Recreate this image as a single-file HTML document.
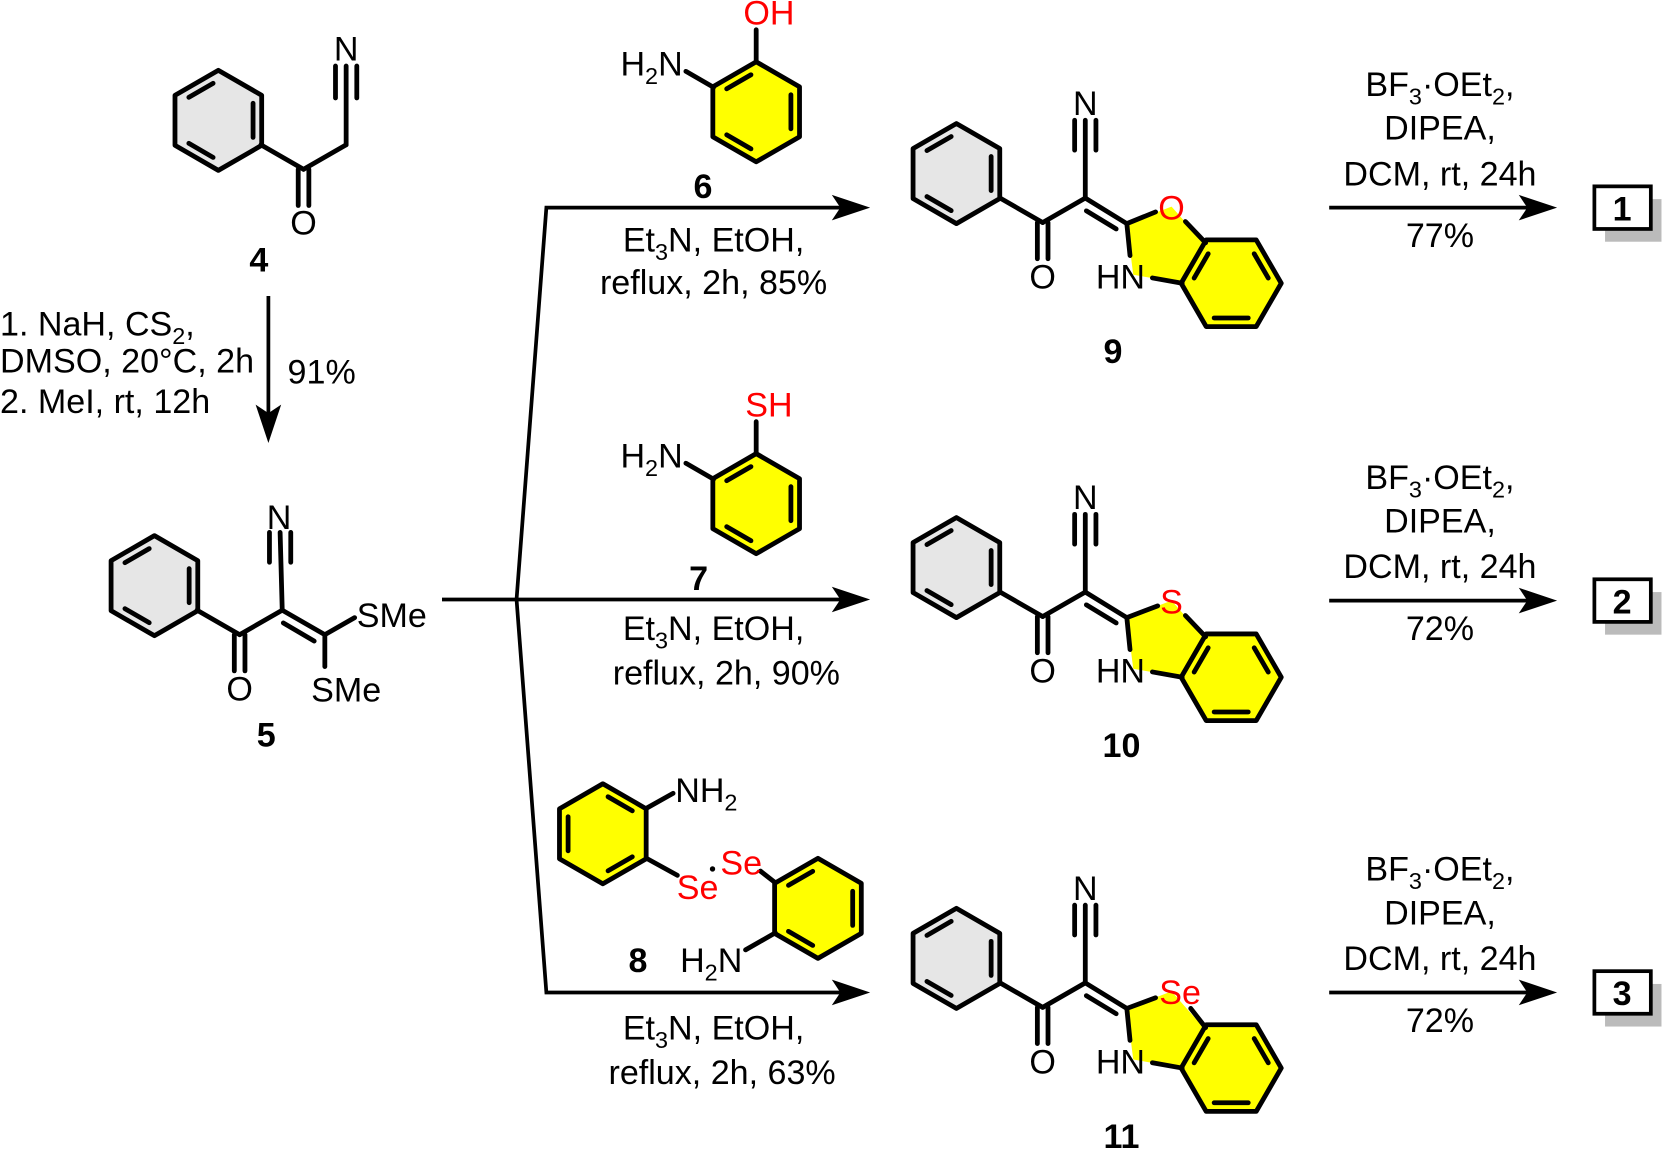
<!DOCTYPE html>
<html><head><meta charset="utf-8"><style>
html,body{margin:0;padding:0;background:#fff;}
svg{display:block;}
text{font-family:"Liberation Sans",Arial,sans-serif;font-size:32px;fill:#000;}
.b{font-weight:bold;}
.r{fill:#ff0000;}
.s{font-size:22px;}
</style></head><body>
<svg width="1670" height="1149" viewBox="0 0 1568 1079" preserveAspectRatio="none" xmlns="http://www.w3.org/2000/svg">
<defs>
<g id="hexG">
<polygon points="0,-47 40.7,-23.5 40.7,23.5 0,47 -40.7,23.5 -40.7,-23.5" fill="#e6e6e6" stroke="#000" stroke-width="4.5" stroke-linejoin="round"/>
<g stroke="#000" stroke-width="4.5" stroke-linecap="round">
<line x1="-4.9" y1="-34.8" x2="-27.7" y2="-21.6"/><line x1="32.6" y1="-16" x2="32.6" y2="16"/><line x1="-4.9" y1="34.8" x2="-27.7" y2="21.6"/></g>
</g>
<g id="hexY">
<polygon points="0,-47 40.7,-23.5 40.7,23.5 0,47 -40.7,23.5 -40.7,-23.5" fill="#ffff00" stroke="#000" stroke-width="4.5" stroke-linejoin="round"/>
<g stroke="#000" stroke-width="4.5" stroke-linecap="round">
<line x1="-4.9" y1="-34.8" x2="-27.7" y2="-21.6"/><line x1="32.6" y1="-16" x2="32.6" y2="16"/><line x1="-4.9" y1="34.8" x2="-27.7" y2="21.6"/></g>
</g>
<g id="arrR"><path d="M0,0 L-36,-12 L-28,0 L-36,12 Z" fill="#000"/></g>
<g id="prod">
<use href="#hexG" x="898" y="163"/>
<g stroke="#000" stroke-width="4.5" stroke-linecap="round" fill="none">
<line x1="939" y1="186" x2="979" y2="209"/>
<line x1="974" y1="209" x2="974" y2="243"/><line x1="984" y1="209" x2="984" y2="243"/>
<line x1="979" y1="209" x2="1019" y2="186"/>
<line x1="1019" y1="186" x2="1019" y2="113"/>
<line x1="1009" y1="141" x2="1009" y2="113"/><line x1="1029" y1="141" x2="1029" y2="113"/>
<line x1="1019" y1="186" x2="1058" y2="210"/>
<line x1="1020" y1="198" x2="1048" y2="215"/>
</g>
<text x="979" y="271" text-anchor="middle">O</text>
<text x="1019" y="108" text-anchor="middle">N</text>
</g>
</defs>

<!-- compound 4 -->
<use href="#hexG" x="205" y="113"/>
<g stroke="#000" stroke-width="4.5" stroke-linecap="round" fill="none">
<line x1="245" y1="136" x2="285" y2="159"/>
<line x1="280" y1="159" x2="280" y2="193"/><line x1="290" y1="159" x2="290" y2="193"/>
<line x1="285" y1="159" x2="325" y2="136"/>
<line x1="325" y1="136" x2="325" y2="62"/>
<line x1="315" y1="92" x2="315" y2="62"/><line x1="335" y1="92" x2="335" y2="62"/>
</g>
<text x="285" y="220" text-anchor="middle">O</text>
<text x="325" y="57" text-anchor="middle">N</text>
<text x="243" y="255" text-anchor="middle" class="b">4</text>

<!-- arrow 4->5 -->
<line x1="252" y1="278" x2="252" y2="390" stroke="#000" stroke-width="3.5"/>
<use href="#arrR" transform="translate(252,416) rotate(90)"/>
<text x="0" y="315">1. NaH, CS<tspan class="s" dy="8">2</tspan><tspan dy="-8">,</tspan></text>
<text x="0" y="350">DMSO, 20°C, 2h</text>
<text x="0" y="388">2. MeI, rt, 12h</text>
<text x="270" y="360">91%</text>

<!-- compound 5 -->
<use href="#hexG" x="145" y="550"/>
<g stroke="#000" stroke-width="4.5" stroke-linecap="round" fill="none">
<line x1="185" y1="573" x2="225" y2="596"/>
<line x1="220" y1="596" x2="220" y2="630"/><line x1="230" y1="596" x2="230" y2="630"/>
<line x1="225" y1="596" x2="265" y2="573"/>
<line x1="265" y1="573" x2="263" y2="500"/>
<line x1="253" y1="528" x2="253" y2="500"/><line x1="273" y1="528" x2="273" y2="500"/>
<line x1="265" y1="573" x2="305" y2="596"/>
<line x1="266" y1="585" x2="295" y2="602"/>
<line x1="305" y1="596" x2="333" y2="580"/>
<line x1="305" y1="596" x2="305" y2="626"/>
</g>
<text x="225" y="658" text-anchor="middle">O</text>
<text x="262" y="497" text-anchor="middle">N</text>
<text x="335" y="589">SMe</text>
<text x="325" y="659" text-anchor="middle">SMe</text>
<text x="250" y="701" text-anchor="middle" class="b">5</text>

<!-- branch lines -->
<g stroke="#000" stroke-width="3.5" fill="none">
<line x1="415" y1="563" x2="485" y2="563"/>
<polyline points="485,563 513,195 790,195"/>
<line x1="485" y1="563" x2="790" y2="563"/>
<polyline points="485,563 513,932 790,932"/>
</g>
<use href="#arrR" x="817" y="195"/>
<use href="#arrR" x="817" y="563"/>
<use href="#arrR" x="817" y="932"/>

<!-- reagent 6 -->
<use href="#hexY" x="710" y="105"/>
<g stroke="#000" stroke-width="4.5" stroke-linecap="round">
<line x1="710" y1="58" x2="710" y2="28"/><line x1="670" y1="82" x2="644" y2="67"/></g>
<text x="722" y="23" text-anchor="middle" class="r">OH</text>
<text x="641" y="71" text-anchor="end">H<tspan class="s" dy="8">2</tspan><tspan dy="-8">N</tspan></text>
<text x="660" y="186" text-anchor="middle" class="b">6</text>
<text x="670" y="236" text-anchor="middle">Et<tspan class="s" dy="8">3</tspan><tspan dy="-8">N, EtOH,</tspan></text>
<text x="670" y="276" text-anchor="middle">reflux, 2h, 85%</text>

<!-- reagent 7 -->
<use href="#hexY" x="710" y="473"/>
<g stroke="#000" stroke-width="4.5" stroke-linecap="round">
<line x1="710" y1="426" x2="710" y2="396"/><line x1="670" y1="450" x2="644" y2="435"/></g>
<text x="722" y="391" text-anchor="middle" class="r">SH</text>
<text x="641" y="439" text-anchor="end">H<tspan class="s" dy="8">2</tspan><tspan dy="-8">N</tspan></text>
<text x="656" y="554" text-anchor="middle" class="b">7</text>
<text x="670" y="601" text-anchor="middle">Et<tspan class="s" dy="8">3</tspan><tspan dy="-8">N, EtOH,</tspan></text>
<text x="682" y="643" text-anchor="middle">reflux, 2h, 90%</text>

<!-- reagent 8 -->
<use href="#hexY" transform="translate(566,783) scale(-1,1)"/>
<use href="#hexY" x="768" y="853"/>
<g stroke="#000" stroke-width="4.5" stroke-linecap="round">
<line x1="607" y1="759" x2="632" y2="745"/>
<line x1="607" y1="806" x2="636" y2="822"/>
<line x1="714" y1="818" x2="728" y2="829"/>
<line x1="728" y1="876" x2="700" y2="892"/></g>
<circle cx="669" cy="816" r="2.5" fill="#000"/>
<text x="634" y="753">NH<tspan class="s" dy="8">2</tspan></text>
<text x="655" y="844" text-anchor="middle" class="r">Se</text>
<text x="696" y="821" text-anchor="middle" class="r">Se</text>
<text x="697" y="913" text-anchor="end">H<tspan class="s" dy="8">2</tspan><tspan dy="-8">N</tspan></text>
<text x="599" y="913" text-anchor="middle" class="b">8</text>
<text x="670" y="976" text-anchor="middle">Et<tspan class="s" dy="8">3</tspan><tspan dy="-8">N, EtOH,</tspan></text>
<text x="678" y="1018" text-anchor="middle">reflux, 2h, 63%</text>

<!-- products -->
<g>
<polygon points="1058,210 1100,194 1130,228 1110,266 1064,258" fill="#ffff00"/>
<use href="#hexY" transform="translate(1156,266) rotate(90)"/>
<use href="#prod"/>
<g stroke="#000" stroke-width="4.5" stroke-linecap="round">
<line x1="1058" y1="210" x2="1085" y2="199"/>
<line x1="1113" y1="208" x2="1132" y2="228"/>
<line x1="1110" y1="266" x2="1082" y2="261"/>
<line x1="1061" y1="240" x2="1058" y2="210"/></g>
</g>
<text x="1100" y="206" text-anchor="middle" class="r">O</text>
<text x="1052" y="271" text-anchor="middle">HN</text>
<text x="1045" y="341" text-anchor="middle" class="b">9</text>

<g transform="translate(0,370)">
<polygon points="1058,210 1100,194 1130,228 1110,266 1064,258" fill="#ffff00"/>
<use href="#hexY" transform="translate(1156,266) rotate(90)"/>
<use href="#prod"/>
<g stroke="#000" stroke-width="4.5" stroke-linecap="round">
<line x1="1058" y1="210" x2="1087" y2="199"/>
<line x1="1113" y1="208" x2="1132" y2="228"/>
<line x1="1110" y1="266" x2="1082" y2="261"/>
<line x1="1061" y1="240" x2="1058" y2="210"/></g>
<text x="1100" y="206" text-anchor="middle" class="r">S</text>
<text x="1052" y="271" text-anchor="middle">HN</text>
<text x="1053" y="341" text-anchor="middle" class="b">10</text>
</g>

<g transform="translate(0,737)">
<polygon points="1058,210 1100,194 1130,228 1110,266 1064,258" fill="#ffff00"/>
<use href="#hexY" transform="translate(1156,266) rotate(90)"/>
<use href="#prod"/>
<g stroke="#000" stroke-width="4.5" stroke-linecap="round">
<line x1="1058" y1="210" x2="1085" y2="200"/>
<line x1="1118" y1="210" x2="1132" y2="228"/>
<line x1="1110" y1="266" x2="1082" y2="261"/>
<line x1="1061" y1="240" x2="1058" y2="210"/></g>
<text x="1108" y="206" text-anchor="middle" class="r">Se</text>
<text x="1052" y="271" text-anchor="middle">HN</text>
<text x="1053" y="341" text-anchor="middle" class="b">11</text>
</g>

<!-- final arrows -->
<g>
<line x1="1248" y1="195" x2="1435" y2="195" stroke="#000" stroke-width="3.5"/>
<use href="#arrR" x="1462" y="195"/>
<text x="1352" y="90" text-anchor="middle">BF<tspan class="s" dy="8">3</tspan><tspan dy="-8">·OEt</tspan><tspan class="s" dy="8">2</tspan><tspan dy="-8">,</tspan></text>
<text x="1352" y="131" text-anchor="middle">DIPEA,</text>
<text x="1352" y="174" text-anchor="middle">DCM, rt, 24h</text>
<text x="1352" y="232" text-anchor="middle">77%</text>
<rect x="1507" y="187" width="53" height="40" fill="#bbb"/>
<rect x="1497" y="175" width="53" height="40" fill="#fff" stroke="#000" stroke-width="3.5"/>
<text x="1523" y="207" text-anchor="middle" class="b">1</text>
</g>
<g transform="translate(0,369)">
<line x1="1248" y1="195" x2="1435" y2="195" stroke="#000" stroke-width="3.5"/>
<use href="#arrR" x="1462" y="195"/>
<text x="1352" y="90" text-anchor="middle">BF<tspan class="s" dy="8">3</tspan><tspan dy="-8">·OEt</tspan><tspan class="s" dy="8">2</tspan><tspan dy="-8">,</tspan></text>
<text x="1352" y="131" text-anchor="middle">DIPEA,</text>
<text x="1352" y="174" text-anchor="middle">DCM, rt, 24h</text>
<text x="1352" y="232" text-anchor="middle">72%</text>
<rect x="1507" y="187" width="53" height="40" fill="#bbb"/>
<rect x="1497" y="175" width="53" height="40" fill="#fff" stroke="#000" stroke-width="3.5"/>
<text x="1523" y="207" text-anchor="middle" class="b">2</text>
</g>
<g transform="translate(0,737)">
<line x1="1248" y1="195" x2="1435" y2="195" stroke="#000" stroke-width="3.5"/>
<use href="#arrR" x="1462" y="195"/>
<text x="1352" y="90" text-anchor="middle">BF<tspan class="s" dy="8">3</tspan><tspan dy="-8">·OEt</tspan><tspan class="s" dy="8">2</tspan><tspan dy="-8">,</tspan></text>
<text x="1352" y="131" text-anchor="middle">DIPEA,</text>
<text x="1352" y="174" text-anchor="middle">DCM, rt, 24h</text>
<text x="1352" y="232" text-anchor="middle">72%</text>
<rect x="1507" y="187" width="53" height="40" fill="#bbb"/>
<rect x="1497" y="175" width="53" height="40" fill="#fff" stroke="#000" stroke-width="3.5"/>
<text x="1523" y="207" text-anchor="middle" class="b">3</text>
</g>
</svg>
</body></html>
